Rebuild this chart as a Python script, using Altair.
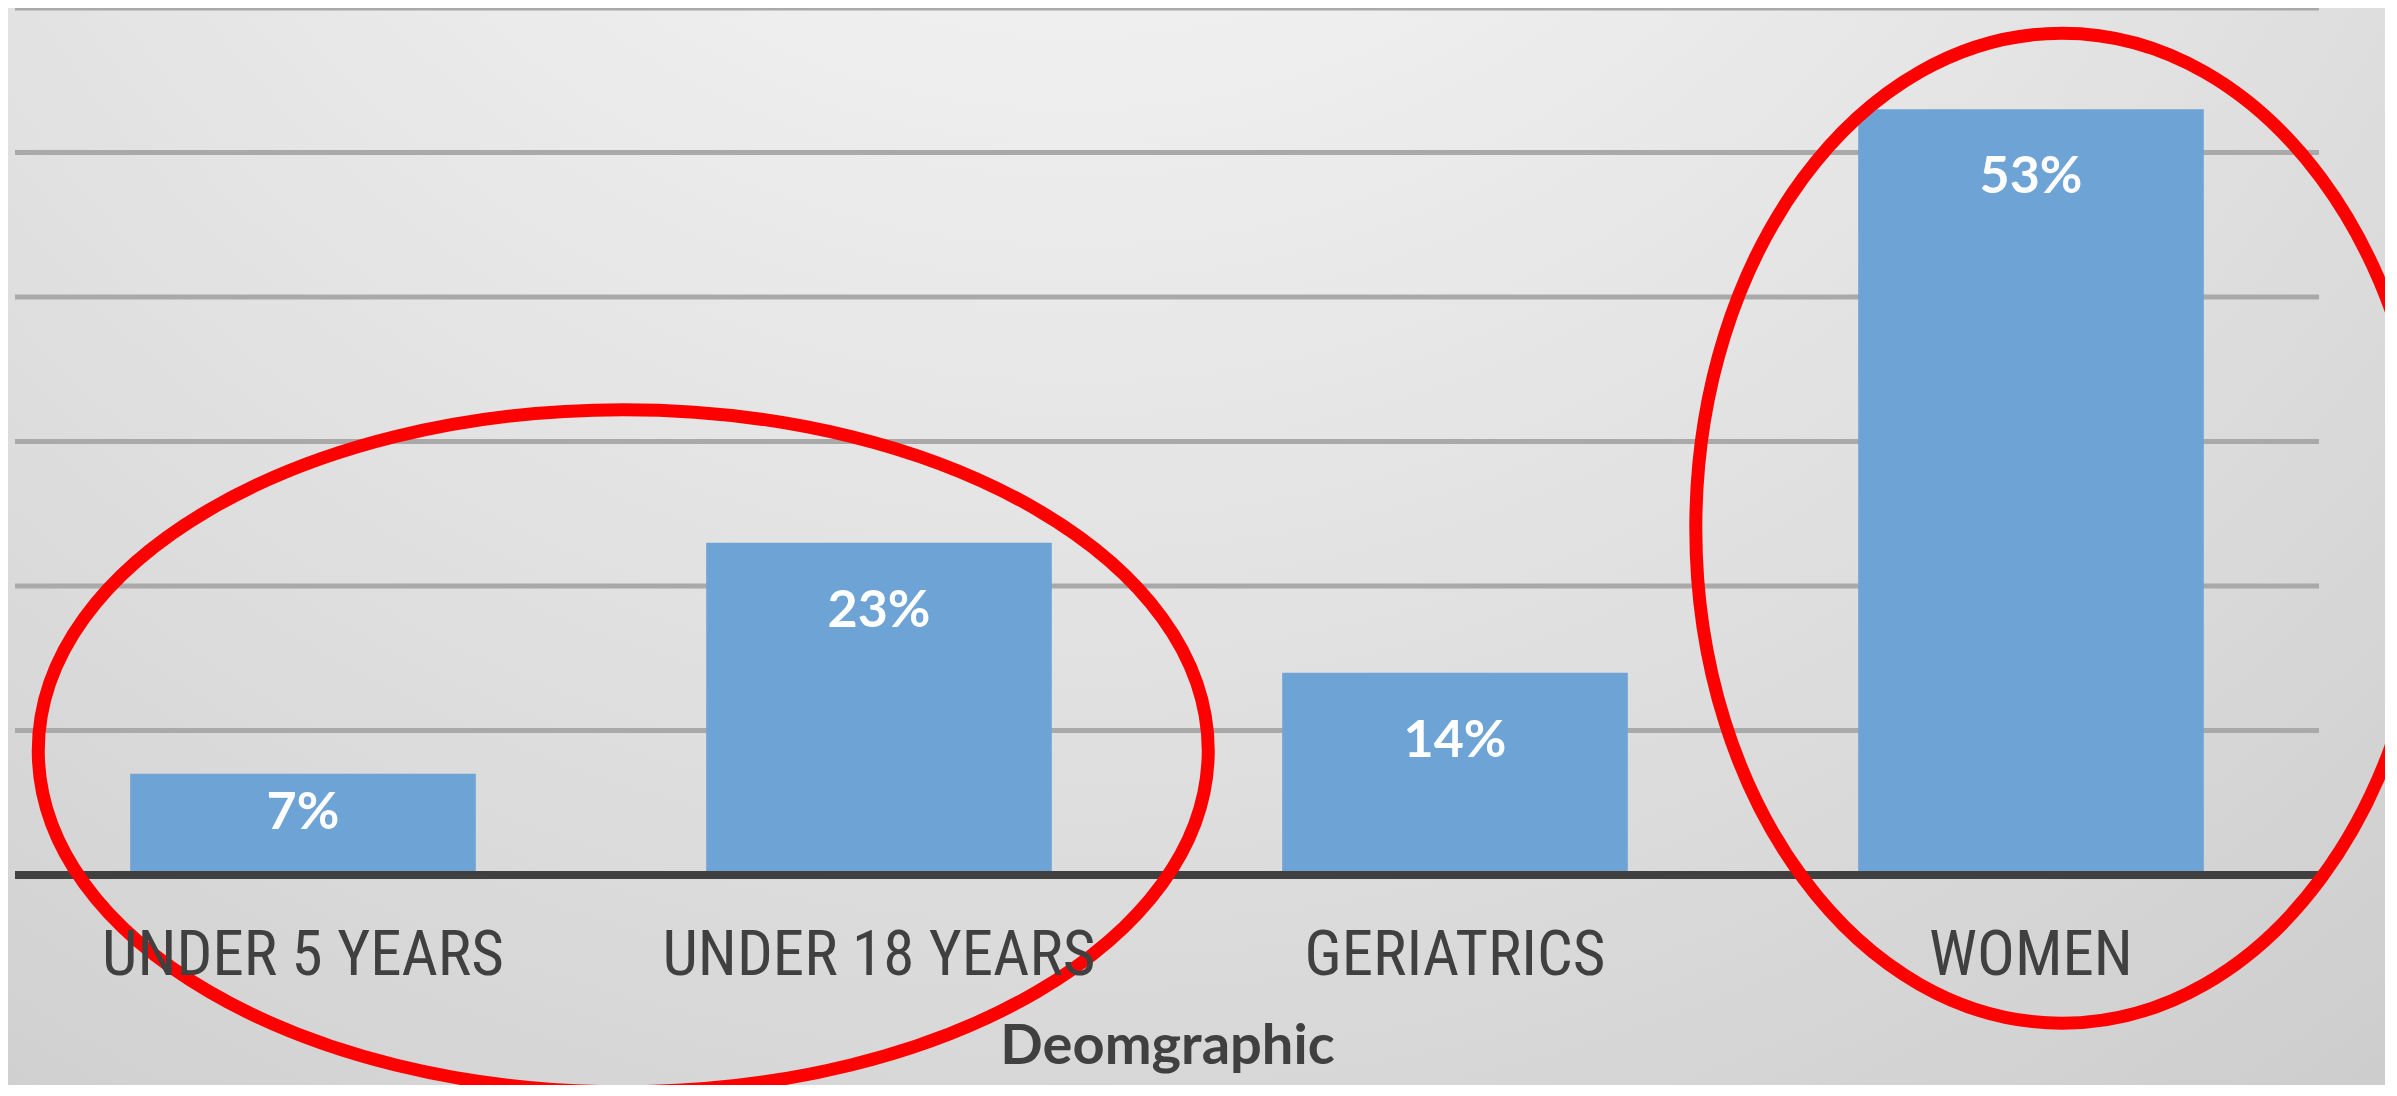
import altair as alt
import pandas as pd

# ---- data ----
categories = ["UNDER 5 YEARS", "UNDER 18 YEARS", "GERIATRICS", "WOMEN"]
values = [7, 23, 14, 53]
grid_values = [10, 20, 30, 40, 50, 60]

# annotation ellipses: centre in category-index space (0..4) and percent space
ellipse_x = [1.056, 3.554]
ellipse_y = [8.6, 24.0]

W, H = 2304, 867
PAD_R, PAD_B = 66, 210
FONT = "Liberation Sans Narrow, Roboto Condensed, Lato, sans-serif"
BOLD_FONT = "Lato, sans-serif"

df = pd.DataFrame({"cat": categories, "value": values})
df["label"] = [f"{v}%" for v in values]
grid_df = pd.DataFrame({"v": grid_values})
base_df = pd.DataFrame({"v": [0]})

yscale = alt.Scale(domain=[0, 60], nice=False, zero=True)
xscale = alt.Scale(paddingInner=0.4, paddingOuter=0.2)

bg = alt.Chart(alt.Data(values=[{}])).mark_rect(
    fill={
        "gradient": "radial",
        "x1": 0.45, "y1": 0.0, "r1": 0.0,
        "x2": 0.45, "y2": 0.0, "r2": 1.0,
        "stops": [
            {"offset": 0.0, "color": "#fcfcfc"},
            {"offset": 0.3, "color": "#eeeeee"},
            {"offset": 0.7, "color": "#d9d9d9"},
            {"offset": 1.0, "color": "#c8c8c8"},
        ],
    }
).encode(
    x=alt.value(-7), x2=alt.value(W + PAD_R),
    y=alt.value(-8), y2=alt.value(H + PAD_B),
)

grid = alt.Chart(grid_df).mark_rule(color="#a9a9a9", strokeWidth=5).encode(
    y=alt.Y("v:Q", scale=yscale, axis=None)
)

bars = alt.Chart(df).mark_bar(color="#6ea3d5").encode(
    x=alt.X(
        "cat:N", sort=categories, scale=xscale,
        axis=alt.Axis(
            title="Deomgraphic", labelAngle=0, domain=False, ticks=False, grid=False,
            labelFont=FONT, labelFontSize=63, labelColor="#404040", labelPadding=49,
            labelLimit=0, labelFontWeight=400,
            titleFont=BOLD_FONT, titleFontWeight="bold", titleFontSize=56,
            titleColor="#404040", titlePadding=32, zindex=1,
        ),
    ),
    y=alt.Y("value:Q", scale=yscale, axis=None),
)

text = alt.Chart(df).transform_calculate(
    ly="datum.value >= 10 ? datum.value - 4.7 : datum.value - 2.7"
).mark_text(
    font=BOLD_FONT, fontWeight="bold", fontSize=52, color="white",
    baseline="middle",
).encode(
    x=alt.X("cat:N", sort=categories, scale=xscale, axis=None),
    y=alt.Y("ly:Q", scale=yscale, axis=None),
    text="label:N",
)

baseline = alt.Chart(base_df).mark_rule(color="#404040", strokeWidth=8).encode(
    y=alt.Y("v:Q", scale=yscale, axis=None)
)


def ellipse_path(a, b):
    k = 0.5523
    return (
        f"M {a} 0 C {a} {k*b}, {k*a} {b}, 0 {b} "
        f"C {-k*a} {b}, {-a} {k*b}, {-a} 0 "
        f"C {-a} {-k*b}, {-k*a} {-b}, 0 {-b} "
        f"C {k*a} {-b}, {a} {-k*b}, {a} 0 Z"
    )


ell_df1 = pd.DataFrame({"ex": [ellipse_x[0]], "ey": [ellipse_y[0]]})
ell_df2 = pd.DataFrame({"ex": [ellipse_x[1]], "ey": [ellipse_y[1]]})
exscale = alt.Scale(domain=[0, 4], nice=False, zero=False)

ell1 = alt.Chart(ell_df1).mark_point(
    shape=ellipse_path(1, 0.583), size=1170 ** 2, filled=False,
    stroke="#ff0000", strokeWidth=13, opacity=1,
).encode(
    x=alt.X("ex:Q", scale=exscale, axis=None),
    y=alt.Y("ey:Q", scale=yscale, axis=None),
)

ell2 = alt.Chart(ell_df2).mark_point(
    shape=ellipse_path(0.740, 1), size=990 ** 2, filled=False,
    stroke="#ff0000", strokeWidth=13, opacity=1,
).encode(
    x=alt.X("ex:Q", scale=exscale, axis=None),
    y=alt.Y("ey:Q", scale=yscale, axis=None),
)

chart = (
    alt.layer(bg, grid, bars, text, baseline, ell1, ell2)
    .resolve_scale(x="independent")
    .properties(
        width=W, height=H,
        autosize=alt.AutoSizeParams(type="none"),
        padding={"left": 7, "top": 0, "right": PAD_R, "bottom": PAD_B},
        background="#d8d8d8",
    )
    .configure_view(stroke=None)
)

chart.save("out.html", embed_options={"renderer": "svg", "actions": False})
